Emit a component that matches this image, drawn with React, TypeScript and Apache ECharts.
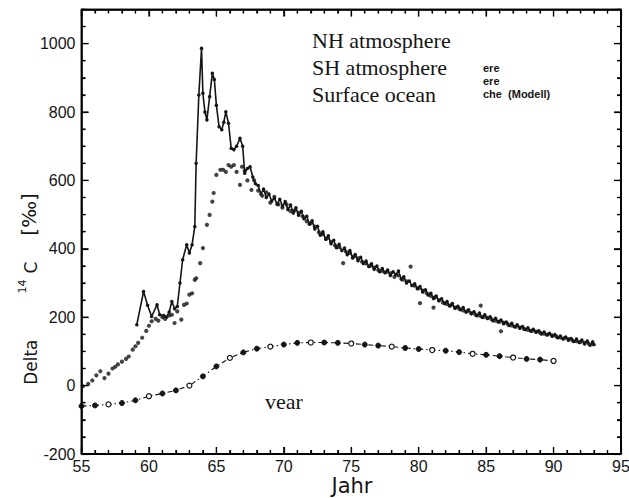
import React, { useEffect, useRef } from "react";
import * as echarts from "echarts";

// ---- Data ----
const xTickYears = [55, 60, 65, 70, 75, 80, 85, 90, 95];
const yTickValues = [-200, 0, 200, 400, 600, 800, 1000];
const X_MIN = 55, X_MAX = 95, X_MINOR = 1, X_MAJOR = 5;
const Y_MIN = -200, Y_MAX = 1100, Y_MINOR = 50, Y_MAJOR = 200;

// NH atmosphere (solid line with small markers)
const nhYears = [
  59.1, 59.6, 59.9, 60.2, 60.6, 60.8, 61.1, 61.3, 61.5, 61.7, 61.9, 62.1, 62.3, 62.5, 62.8, 63.0, 63.2, 63.4,
  63.5, 63.7, 63.9, 64.0, 64.15, 64.3, 64.5, 64.7, 64.85, 65.0, 65.2, 65.4, 65.55, 65.7, 65.9, 66.1, 66.3, 66.5,
  66.75, 66.95, 67.1, 67.3, 67.5, 67.7, 67.9, 68.1, 68.3, 68.5, 68.7, 68.9, 69.1, 69.3, 69.5, 69.7, 69.9, 70.1,
  70.3, 70.5, 70.7, 70.9, 71.1, 71.3, 71.5, 71.7, 71.9, 72.1, 72.3, 72.5, 72.7, 72.9, 73.1, 73.3, 73.5, 73.7,
  73.9, 74.1, 74.3, 74.5, 74.7, 74.9, 75.1, 75.3, 75.5, 75.7, 75.9, 76.1, 76.3, 76.5, 76.7, 76.9, 77.1, 77.3,
  77.5, 77.7, 77.9, 78.1, 78.3, 78.5, 78.7, 78.9, 79.1, 79.3, 79.5, 79.7, 79.9, 80.1, 80.3, 80.5, 80.7, 80.9,
  81.1, 81.3, 81.5, 81.7, 81.9, 82.1, 82.3, 82.5, 82.7, 82.9, 83.1, 83.3, 83.5, 83.7, 83.9, 84.1, 84.3, 84.5,
  84.7, 84.9, 85.1, 85.3, 85.5, 85.7, 85.9, 86.1, 86.3, 86.5, 86.7, 86.9, 87.1, 87.3, 87.5, 87.7, 87.9, 88.1,
  88.3, 88.5, 88.7, 88.9, 89.1, 89.3, 89.5, 89.7, 89.9, 90.1, 90.3, 90.5, 90.7, 90.9, 91.1, 91.3, 91.5, 91.7,
  91.9, 92.1, 92.3, 92.5, 92.7, 92.9, 93.0,
];
const nhValues = [
  178, 275, 235, 202, 236, 207, 205, 200, 215, 246, 225, 231, 300, 368, 412, 388, 412, 465,
  650, 850, 986, 855, 800, 777, 845, 913, 895, 820, 757, 748, 770, 801, 767, 694, 690, 700,
  723, 700, 621, 635, 640, 610, 590, 585, 560, 575, 550, 560, 540, 548, 530, 545, 525, 538,
  515, 528, 505, 520, 498, 510, 488, 495, 472, 482, 458, 466, 440, 450, 428, 438, 415, 425,
  403, 413, 395, 402, 383, 395, 373, 383, 365, 375, 357, 364, 348, 356, 340, 350, 333, 342,
  330, 338, 322, 333, 325, 335, 312, 318, 300, 306, 293, 298, 283, 290, 274, 280, 265, 270,
  255, 262, 248, 254, 240, 246, 233, 240, 226, 232, 222, 228, 215, 222, 210, 216, 204, 212,
  200, 207, 196, 201, 190, 197, 186, 192, 181, 186, 176, 182, 172, 178, 168, 173, 164, 169,
  160, 165, 156, 160, 151, 157, 148, 153, 144, 149, 140, 145, 136, 142, 133, 138, 129, 136,
  126, 133, 122, 130, 118, 128, 120,
];

// SH atmosphere (dots)
const shYears = [
  55.1, 55.5, 55.8, 56.1, 56.4, 56.7, 57.0, 57.3, 57.5, 57.7, 58.0, 58.3, 58.5, 58.8, 59.0, 59.2, 59.5, 59.8,
  60.0, 60.2, 60.5, 60.7, 61.0, 61.2, 61.5, 61.7, 61.9, 62.1, 62.4, 62.6, 62.8, 63.0, 63.2, 63.4, 63.5, 63.8,
  64.0, 64.3, 64.5, 64.7, 64.8, 65.0, 65.3, 65.5, 65.7, 65.9, 66.1, 66.3, 66.5, 66.75, 66.9, 67.1, 67.3, 67.6,
  67.8, 68.1, 68.4, 68.7, 69.0, 69.3, 69.6, 69.9, 70.2, 70.5, 70.8, 71.1, 71.4, 71.7, 72.0, 72.3, 72.6, 72.9,
  73.2, 73.5, 73.8, 74.1, 74.4, 74.6, 74.9, 75.2, 75.5, 75.8, 76.1, 76.4, 76.7, 77.0, 77.3, 77.6, 77.9, 78.2,
  78.5, 78.8, 79.1, 79.4, 79.7, 80.0, 80.1, 80.3, 80.6, 80.9, 81.1, 81.2, 81.5, 81.8, 82.1, 82.4, 82.7, 83.0,
  83.3, 83.6, 83.9, 84.2, 84.5, 84.6, 84.8, 85.1, 85.4, 85.7, 86.0, 86.1, 86.3, 86.6, 86.9, 87.2, 87.5, 87.8,
  88.1, 88.4, 88.7, 89.0, 89.3, 89.6, 89.9, 90.2, 90.5, 90.8, 91.1, 91.4, 91.7, 92.0, 92.3, 92.6, 92.9,
];
const shValues = [
  -2, 5, 15, 30, 42, 22, 35, 50, 55, 62, 70, 78, 85, 105, 115, 125, 140, 160,
  175, 188, 195, 190, 200, 195, 205, 207, 183, 217, 193, 236, 240, 266, 270, 309, 314, 358,
  402, 470, 499, 538, 563, 616, 631, 631, 625, 645, 640, 645, 625, 587, 640, 628, 600, 572,
  600, 570, 555, 565, 535, 552, 530, 520, 530, 510, 512, 505, 495, 480, 475, 465, 448, 442,
  430, 420, 410, 405, 358, 392, 388, 378, 372, 362, 357, 350, 345, 338, 335, 332, 328, 318,
  322, 310, 305, 348, 292, 285, 241, 278, 270, 262, 228, 258, 250, 243, 238, 235, 228, 225,
  220, 217, 212, 208, 205, 234, 200, 198, 194, 190, 187, 159, 184, 180, 176, 172, 170, 166,
  163, 160, 158, 155, 152, 150, 147, 144, 141, 139, 136, 132, 130, 128, 125, 123, 121,
];

// Surface ocean (dash-dot line with circles)
const oceanYears = [
  55, 56, 57, 58, 59, 60, 61, 62, 63, 64, 65, 66, 67, 68, 69, 70, 71, 72,
  73, 74, 75, 76, 77, 78, 79, 80, 81, 82, 83, 84, 85, 86, 87, 88, 89, 90,
];
const oceanValues = [
  -60, -58, -55, -51, -43, -31, -23, -14, 0, 27, 56, 81, 97, 108, 114, 120, 125, 126,
  126, 125, 123, 120, 117, 114, 110, 107, 104, 102, 98, 93, 90, 86, 82, 78, 76, 72,
];

const legendLines = ["NH atmosphere", "SH atmosphere", "Surface ocean"];
const smallLines = ["ere", "ere", "che  (Modell)"];

const INK = "#151515";
const TICK = "#000000";
const CHART_W = 644;
const CHART_H = 498;

function xAxisDef(position: string, showLabels: boolean) {
  return {
    type: "value",
    gridIndex: 0,
    position,
    min: X_MIN,
    max: X_MAX,
    interval: X_MAJOR,
    splitLine: { show: false },
    axisLine: { show: true, onZero: false, lineStyle: { color: TICK, width: 1.5 } },
    axisTick: { show: true, inside: true, length: 7, lineStyle: { color: TICK, width: 1.2 } },
    minorTick: { show: true, splitNumber: 5, length: 4, lineStyle: { color: TICK, width: 1.2 } },
    axisLabel: showLabels
      ? {
          show: true,
          fontFamily: "Liberation Sans, Arial, sans-serif",
          fontSize: 16,
          color: INK,
          margin: 4,
          formatter: (v: number) => (xTickYears.includes(v) ? String(v) : ""),
        }
      : { show: false },
  };
}

function yAxisDef(position: string, showLabels: boolean) {
  return {
    type: "value",
    gridIndex: 0,
    position,
    min: Y_MIN,
    max: Y_MAX,
    interval: Y_MAJOR,
    splitLine: { show: false },
    axisLine: { show: true, onZero: false, lineStyle: { color: TICK, width: 1.5 } },
    axisTick: { show: true, inside: true, length: 7, lineStyle: { color: TICK, width: 1.2 } },
    minorTick: { show: true, splitNumber: 4, length: 4, lineStyle: { color: TICK, width: 1.2 } },
    axisLabel: showLabels
      ? {
          show: true,
          fontFamily: "Liberation Sans, Arial, sans-serif",
          fontSize: 16,
          color: INK,
          margin: 6,
          formatter: (v: number) => (yTickValues.includes(v) ? String(v) : ""),
        }
      : { show: false },
  };
}

function textGraphics(): any[] {
  return [
    ...legendLines.map((t, i) => ({
      type: "text",
      x: 312,
      y: 29 + i * 27,
      style: { text: t, fontFamily: "Liberation Serif, Times New Roman, serif", fontSize: 22, fill: INK },
    })),
    ...smallLines.map((t, i) => ({
      type: "text",
      x: 483,
      y: 62 + i * 13,
      style: { text: t, fontFamily: "Liberation Sans, Arial, sans-serif", fontSize: 11, fontWeight: "bold", fill: INK },
    })),
    {
      type: "text",
      x: 265,
      y: 390,
      style: { text: "vear", fontFamily: "Liberation Serif, Times New Roman, serif", fontSize: 22, fill: INK },
    },
    {
      type: "text",
      x: 352,
      y: 486,
      style: {
        text: "Jahr", align: "center", verticalAlign: "middle",
        fontFamily: "DejaVu Sans, sans-serif", fontSize: 21, fill: INK,
      },
    },
    {
      type: "text",
      x: 28,
      y: 289,
      rotation: Math.PI / 2,
      style: {
        text: "{a|Delta}{s|14}{a|C}{b|[‰]}",
        align: "center",
        verticalAlign: "middle",
        fill: INK,
        rich: {
          a: { fontFamily: "DejaVu Sans, sans-serif", fontSize: 17, fill: INK, lineHeight: 22, verticalAlign: "bottom" },
          s: { fontFamily: "DejaVu Sans, sans-serif", fontSize: 11, fill: INK, lineHeight: 12, verticalAlign: "top", padding: [0, 6, 0, 46] },
          b: { fontFamily: "DejaVu Sans, sans-serif", fontSize: 20, fill: INK, lineHeight: 22, verticalAlign: "bottom", padding: [0, 0, 0, 26] },
        },
      },
    },
  ];
}

export default function App() {
  const ref = useRef<HTMLDivElement>(null);

  useEffect(() => {
    if (!ref.current) return;
    const chart = echarts.init(ref.current, null, { renderer: "svg" });

    const oceanData = oceanYears.map((y, i) => ({
      value: [y, oceanValues[i]],
      itemStyle: i % 3 === 2
        ? { color: "#ffffff", borderColor: INK, borderWidth: 1.2 }
        : { color: INK, borderColor: INK, borderWidth: 1 },
    }));

    chart.setOption({
      animation: false,
      grid: {
        left: 81.5,
        right: CHART_W - 621,
        top: 9.4,
        bottom: 44,
        show: true,
        borderColor: TICK,
        borderWidth: 1.5,
      },
      xAxis: [xAxisDef("bottom", true), xAxisDef("top", false)],
      yAxis: [yAxisDef("left", true), yAxisDef("right", false)],
      series: [
        {
          name: "Surface ocean",
          type: "line",
          xAxisIndex: 0,
          yAxisIndex: 0,
          data: oceanData,
          symbol: "circle",
          symbolSize: 5,
          showSymbol: true,
          lineStyle: { color: INK, width: 1.1, type: [5, 3, 1.5, 3] },
        },
        {
          name: "SH atmosphere",
          type: "scatter",
          xAxisIndex: 0,
          yAxisIndex: 0,
          data: shYears.map((y, i) => [y, shValues[i]]),
          symbol: "circle",
          symbolSize: 4.2,
          itemStyle: { color: INK },
        },
        {
          name: "NH atmosphere",
          type: "line",
          xAxisIndex: 0,
          yAxisIndex: 0,
          data: nhYears.map((y, i) => [y, nhValues[i]]),
          symbol: "circle",
          symbolSize: 3.5,
          showSymbol: true,
          itemStyle: { color: INK },
          lineStyle: { color: INK, width: 1.6 },
        },
      ],
      graphic: textGraphics(),
    });

    // Frame and ticks, positioned through the chart's own axis scales
    const px = (v: number) => chart.convertToPixel({ xAxisIndex: 0 }, v) as unknown as number;
    const py = (v: number) => chart.convertToPixel({ yAxisIndex: 0 }, v) as unknown as number;
    const left = px(X_MIN), right = px(X_MAX), bottom = py(Y_MIN), top = py(Y_MAX);
    const lineEl = (x1: number, y1: number, x2: number, y2: number, w: number) => ({
      type: "line",
      shape: { x1, y1, x2, y2 },
      style: { stroke: TICK, lineWidth: w },
      z: 50,
    });
    const frameEls: any[] = [];
    if ([left, right, bottom, top].every((v) => typeof v === "number" && isFinite(v))) {
      frameEls.push(lineEl(left, top, right, top, 1.5));
      frameEls.push(lineEl(right, top, right, bottom, 1.5));
      frameEls.push(lineEl(left, top, left, bottom, 1.5));
      frameEls.push(lineEl(left, bottom, right, bottom, 1.5));
      for (let k = 0; X_MIN + k * X_MINOR <= X_MAX; k++) {
        const v = X_MIN + k * X_MINOR;
        const len = k % (X_MAJOR / X_MINOR) === 0 ? 7 : 4;
        const x = px(v);
        frameEls.push(lineEl(x, bottom, x, bottom - len, 1.2));
        frameEls.push(lineEl(x, top, x, top + len, 1.2));
      }
      for (let k = 0; Y_MIN + k * Y_MINOR <= Y_MAX; k++) {
        const v = Y_MIN + k * Y_MINOR;
        const len = k % (Y_MAJOR / Y_MINOR) === 0 ? 7 : 4;
        const y = py(v);
        frameEls.push(lineEl(left, y, left + len, y, 1.2));
        frameEls.push(lineEl(right, y, right - len, y, 1.2));
      }
    }
    chart.setOption({ graphic: [...textGraphics(), ...frameEls] });

    return () => chart.dispose();
  }, []);

  return (
    <div style={{ position: "fixed", left: 0, top: 0, width: 629, height: 498, overflow: "hidden", background: "#fff" }}>
      <div ref={ref} style={{ position: "absolute", left: 0, top: 0, width: CHART_W, height: CHART_H }} />
    </div>
  );
}
